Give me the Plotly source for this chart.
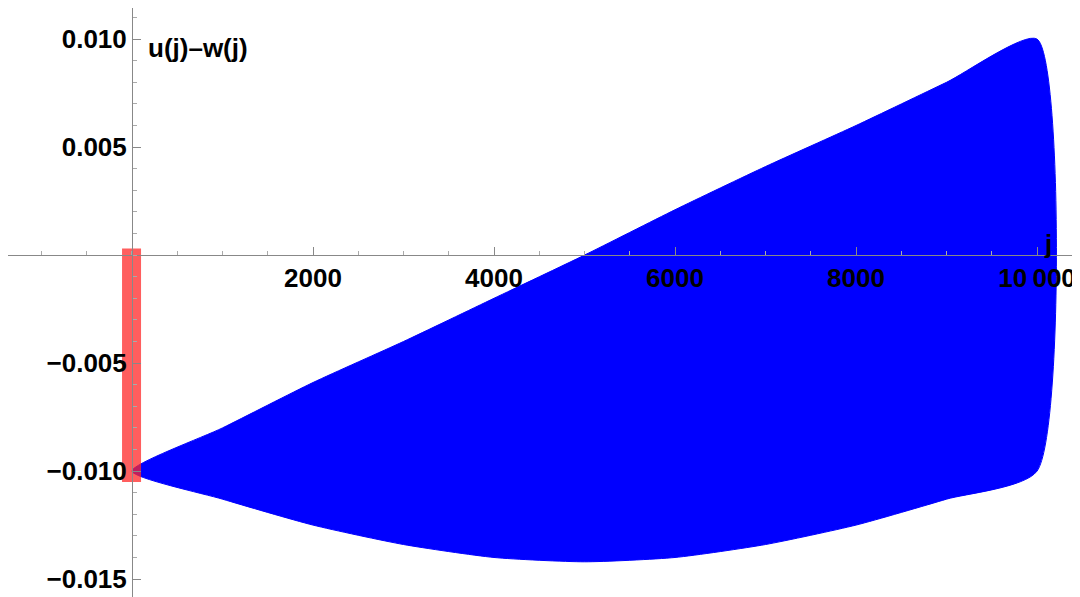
import plotly.graph_objects as go

j = [0, 1000, 2000, 3000, 4000, 5000, 6000, 7000, 8000, 9000, 10000]
upper = [-0.0100, -0.0080, -0.0059, -0.0040, -0.0020, 0.0000, 0.0021, 0.0041, 0.0060, 0.0080, 0.0100]
lower = [-0.0100, -0.0113, -0.0125, -0.0134, -0.0140, -0.0142, -0.0140, -0.0134, -0.0125, -0.0113, -0.0100]
red_x = [-110, 100]
red_y = [0.0003, -0.0105]
xticks = [2000, 4000, 6000, 8000, 10000]
xlabels = ["2000", "4000", "6000", "8000", "10\u2009000"]
yticks = [-0.015, -0.010, -0.005, 0.005, 0.010]
ylabels = ["\u22120.015", "\u22120.010", "\u22120.005", "0.005", "0.010"]

fig = go.Figure()
fig.add_trace(go.Scatter(x=j + j[::-1], y=upper + lower[::-1], fill="toself",
                         fillcolor="rgb(0,0,255)", line=dict(color="rgb(0,0,255)", width=1, shape="spline", smoothing=0.6),
                         mode="lines", hoverinfo="skip"))
fig.add_trace(go.Scatter(x=[red_x[0], red_x[1], red_x[1], red_x[0], red_x[0]],
                         y=[red_y[0], red_y[0], red_y[1], red_y[1], red_y[0]],
                         fill="toself", fillcolor="rgba(255,40,40,0.75)",
                         line=dict(width=0), mode="lines", hoverinfo="skip"))

xr = [-1370, 10563]
yr = [-0.0162, 0.01144]
font = dict(family="Liberation Sans", size=26, color="black")
fig.update_layout(
    width=1080, height=597, margin=dict(l=0, r=0, t=0, b=0, autoexpand=False),
    paper_bgcolor="white", plot_bgcolor="white", showlegend=False,
    xaxis=dict(range=xr, showgrid=False, zeroline=False, showline=True, linecolor="#888",
               automargin=False,
               anchor="free", position=(0 - yr[0]) / (yr[1] - yr[0]),
               tickvals=xticks, ticktext=["<b>%s</b>" % t for t in xlabels],
               ticks="inside", ticklen=8, tickcolor="#888", tickfont=font,
               minor=dict(dtick=500, ticks="inside", ticklen=4, tickcolor="#aaa")),
    yaxis=dict(range=yr, showgrid=False, zeroline=False, showline=True, linecolor="#888",
               automargin=False,
               anchor="free", position=(0 - xr[0]) / (xr[1] - xr[0]),
               tickvals=yticks, ticktext=["<b>%s</b>" % t for t in ylabels],
               ticks="inside", ticklen=8, tickcolor="#888", tickfont=font,
               minor=dict(dtick=0.001, ticks="inside", ticklen=4, tickcolor="#aaa")),
    annotations=[
        dict(x=150, y=0.0096, xref="x", yref="y", text="<b>u(j)\u2013w(j)</b>", showarrow=False,
             xanchor="left", yanchor="middle", font=font),
        dict(x=10050, y=0.0005, xref="x", yref="y", text="<b>j</b>", showarrow=False,
             xanchor="left", yanchor="middle", font=font),
    ],
)
fig.write_html("out.html")
